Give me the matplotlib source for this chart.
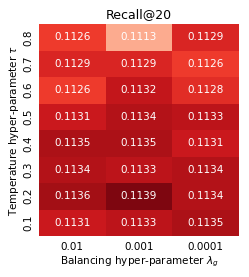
import matplotlib
matplotlib.use("Agg")
import matplotlib.pyplot as plt
import seaborn as sns
import numpy as np

x_labels = ["0.01", "0.001", "0.0001"]
y_labels = ["0.8", "0.7", "0.6", "0.5", "0.4", "0.3", "0.2", "0.1"]
values = [
    [0.1126, 0.1113, 0.1129],
    [0.1129, 0.1129, 0.1126],
    [0.1126, 0.1132, 0.1128],
    [0.1131, 0.1134, 0.1133],
    [0.1135, 0.1135, 0.1131],
    [0.1134, 0.1133, 0.1134],
    [0.1136, 0.1139, 0.1134],
    [0.1131, 0.1133, 0.1135],
]

fig = plt.figure(figsize=(2.49, 2.77), dpi=100)
ax = fig.add_axes([39/249, 1 - 236/277, 200/249, 212/277])
sns.heatmap(np.array(values), ax=ax, cmap="Reds", vmin=0.1101, vmax=0.1141,
            annot=True, fmt=".4f", cbar=False,
            annot_kws={"fontsize": 7.5, "color": "white"},
            xticklabels=x_labels, yticklabels=y_labels)
ax.set_title("Recall@20", fontsize=9, pad=4)
ax.set_xlabel(r"Balancing hyper-parameter $\lambda_g$", fontsize=7.5, labelpad=2)
ax.set_ylabel(r"Temperature hyper-parameter $\tau$", fontsize=7.5, labelpad=2)
ax.tick_params(axis="both", labelsize=7.5, length=0, pad=4)
plt.setp(ax.get_yticklabels(), rotation=90, va="center")
plt.setp(ax.get_xticklabels(), rotation=0)
fig.savefig("out.png", dpi=100)
